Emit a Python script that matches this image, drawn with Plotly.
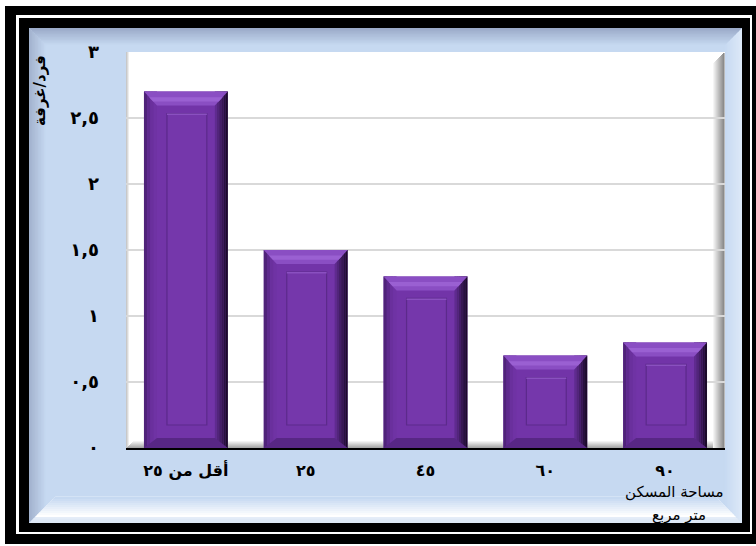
import plotly.graph_objects as go

# ---- data ----
categories = ["أقل من ٢٥", "٢٥", "٤٥", "٦٠", "٩٠"]
persons_per_room = [2.7, 1.5, 1.3, 0.7, 0.8]
y_tick_values = [0, 0.5, 1, 1.5, 2, 2.5, 3]
y_tick_labels = ["٠", "٠,٥", "١", "١,٥", "٢", "٢,٥", "٣"]
y_title = "فرد/غرفة"
x_title_lines = ["مساحة المسكن", "متر مربع"]

W, H = 756, 546
PLOT_L, PLOT_R, PLOT_T, PLOT_B = 126, 725, 52, 448
FONT = "DejaVu Sans"


def px(x):
    return x / W


def py(y):
    return 1 - y / H


def hexrgb(c):
    c = c.lstrip("#")
    return tuple(int(c[i:i + 2], 16) for i in (0, 2, 4))


def mix(c1, c2, t):
    a, b = hexrgb(c1), hexrgb(c2)
    return "rgb(%d,%d,%d)" % tuple(round(a[k] + (b[k] - a[k]) * t) for k in range(3))


def paper_poly(pts, color, layer="below"):
    path = "M " + " L ".join(f"{px(x):.5f},{py(y):.5f}" for x, y in pts) + " Z"
    return dict(type="path", path=path, xref="paper", yref="paper",
                fillcolor=color, line=dict(width=0), layer=layer)


def paper_rect(x0, y0, x1, y1, color, layer="below"):
    return dict(type="rect", xref="paper", yref="paper",
                x0=px(x0), x1=px(x1), y0=py(y1), y1=py(y0),
                fillcolor=color, line=dict(width=0), layer=layer)


shapes = []

# ---- double black frame ----
shapes.append(paper_rect(5, 6, 770, 544, "black"))
shapes.append(paper_rect(16, 15, 752, 534, "white"))
shapes.append(paper_rect(19, 18, 750, 532, "black"))

# ---- light blue panel with bevelled edges ----
BLUE = "#c6d9f1"
bx0, by0, bx1, by1 = 29, 28, 742, 523
shapes.append(paper_rect(bx0, by0, bx1, by1, BLUE))


def bevel(x0, y0, x1, y1, width, side, c_edge, c_inner, n=12):
    step = width / n
    for i in range(n):
        a, b = i * step, (i + 1) * step + 0.6
        col = mix(c_edge, c_inner, i / (n - 1))
        if side == "top":
            pts = [(x0 + a, y0 + a), (x1 - a, y0 + a), (x1 - b, y0 + b), (x0 + b, y0 + b)]
        elif side == "bottom":
            pts = [(x0 + a, y1 - a), (x1 - a, y1 - a), (x1 - b, y1 - b), (x0 + b, y1 - b)]
        elif side == "left":
            pts = [(x0 + a, y0 + a), (x0 + b, y0 + b), (x0 + b, y1 - b), (x0 + a, y1 - a)]
        else:
            pts = [(x1 - a, y0 + a), (x1 - b, y0 + b), (x1 - b, y1 - b), (x1 - a, y1 - a)]
        shapes.append(paper_poly(pts, col))


bevel(bx0, by0, bx1, by1, 18, "left", "#a3b3cf", BLUE)
bevel(bx0, by0, bx1, by1, 18, "right", "#dce8f8", BLUE)
bevel(bx0, by0, bx1, by1, 18, "top", "#9babc9", BLUE)
bevel(bx0, by0, bx1, by1, 26, "bottom", "#dfe9f6", "#ffffff", n=6)
bevel(bx0 + 6, by0 + 6, bx1 - 6, by1 - 6, 20, "bottom", "#ffffff", BLUE, n=10)

# ---- plot area: white wall with soft shading on its edges ----
shapes.append(paper_rect(PLOT_L, PLOT_T, PLOT_R, PLOT_B, "white"))
for i in range(12):
    shapes.append(paper_rect(PLOT_R - 13 + i, PLOT_T + 12 - i, PLOT_R - 12 + i + 0.6, PLOT_B,
                             mix("#ffffff", "#8c8c8c", i / 11)))
for i in range(4):
    shapes.append(paper_rect(PLOT_L + i, PLOT_T, PLOT_L + i + 1, PLOT_B,
                             mix("#c8c8c8", "#ffffff", i / 3)))
for i in range(8):
    shapes.append(paper_rect(PLOT_L + 8 - i, PLOT_B - 8 + i, PLOT_R - 12, PLOT_B - 7 + i,
                             mix("#ffffff", "#a8a8a8", i / 7)))

# ---- bevelled bars (overlays computed from the bar values) ----
x_idx = list(range(len(categories)))
BAR_W = 0.7
UX = (len(categories)) / (PLOT_R - PLOT_L)     # data units per pixel, x
UY = 3 / (PLOT_B - PLOT_T)                      # data units per pixel, y


def data_poly(pts, color):
    path = "M " + " L ".join(f"{x:.5f},{y:.5f}" for x, y in pts) + " Z"
    return dict(type="path", path=path, xref="x", yref="y",
                fillcolor=color, line=dict(width=0), layer="above")


def data_rect(x0, y0, x1, y1, color, line=None):
    return dict(type="rect", xref="x", yref="y", x0=x0, x1=x1, y0=y0, y1=y1,
                fillcolor=color, line=line or dict(width=0), layer="above")


BAR_COLOR = "#7234a8"
for i, v in zip(x_idx, persons_per_room):
    xl, xr = i - BAR_W / 2, i + BAR_W / 2
    sx, st, sb = 13 * UX, 14 * UY, 10 * UY
    # left face
    left_cols = ["#4f2379", "#5e2a8e", "#6a309d", "#6f33a4"]
    for k, c in enumerate(left_cols):
        shapes.append(data_rect(xl + k * sx / 4, 0, xl + (k + 1) * sx / 4, v, c))
    # right face, darkening toward the edge
    n = 6
    for k in range(n):
        shapes.append(data_rect(xr - sx + k * sx / n, 0, xr - sx + (k + 1) * sx / n, v,
                                mix("#5f2b8f", "#1c0b2b", k / (n - 1))))
    # top face
    shapes.append(data_poly([(xl, v), (xr, v), (xr - sx, v - st), (xl + sx, v - st)], "#8a4ec3"))
    shapes.append(data_poly([(xl + 0.4 * sx, v - 0.4 * st), (xr - 0.4 * sx, v - 0.4 * st),
                             (xr - 0.7 * sx, v - 0.7 * st), (xl + 0.7 * sx, v - 0.7 * st)], "#9a60d2"))
    # bottom face
    shapes.append(data_poly([(xl, 0), (xr, 0), (xr - sx, sb), (xl + sx, sb)], "#582785"))
    # inner raised panel
    shapes.append(data_rect(xl + 23 * UX, 23 * UY, xr - 21 * UX, v - 22 * UY, "#7537ab",
                            line=dict(color="#5c2a8b", width=1.2)))
    shapes.append(data_rect(xl + 23 * UX, v - 23.5 * UY, xr - 21 * UX, v - 22 * UY, "#8a50c0"))

fig = go.Figure()
fig.add_trace(go.Bar(x=x_idx, y=persons_per_room, width=BAR_W,
                     marker=dict(color=BAR_COLOR, line=dict(width=0)),
                     hoverinfo="skip"))

annotations = [
    dict(text=f"<b>{y_title}</b>", xref="paper", yref="paper", x=px(40), y=py(91),
         xanchor="center", yanchor="middle",
         textangle=-90, showarrow=False, font=dict(family=FONT, size=15, color="black")),
    dict(text=x_title_lines[0], xref="paper", yref="paper", x=px(674), y=py(492),
         xanchor="center", yanchor="middle",
         showarrow=False, font=dict(family=FONT, size=15, color="black")),
    dict(text=x_title_lines[1], xref="paper", yref="paper", x=px(679), y=py(515),
         xanchor="center", yanchor="middle",
         showarrow=False, font=dict(family=FONT, size=15, color="black")),
]

fig.update_layout(
    width=W, height=H,
    margin=dict(l=0, r=0, t=0, b=0, pad=0, autoexpand=False),
    paper_bgcolor="white",
    plot_bgcolor="rgba(0,0,0,0)",
    showlegend=False,
    shapes=shapes,
    annotations=annotations,
    bargap=0.3,
    xaxis=dict(domain=[px(PLOT_L), px(PLOT_R)], range=[-0.5, len(categories) - 0.5],
               tickvals=x_idx, ticktext=[f"<b>{c}</b>" for c in categories],
               showgrid=False, zeroline=False, showline=True, linecolor="black", linewidth=2,
               ticks="", ticklabelstandoff=7, automargin=False,
               tickfont=dict(family=FONT, size=16, color="black"), fixedrange=True),
    yaxis=dict(domain=[py(PLOT_B), py(PLOT_T)], range=[0, 3],
               tickvals=y_tick_values, ticktext=[f"<b>{t}</b>" for t in y_tick_labels],
               showgrid=True, gridcolor="#d9d9d9", gridwidth=2, zeroline=False,
               showline=False, ticks="", ticklabelstandoff=26, automargin=False,
               tickfont=dict(family=FONT, size=18, color="black"), fixedrange=True),
)

fig.write_html("out.html")
